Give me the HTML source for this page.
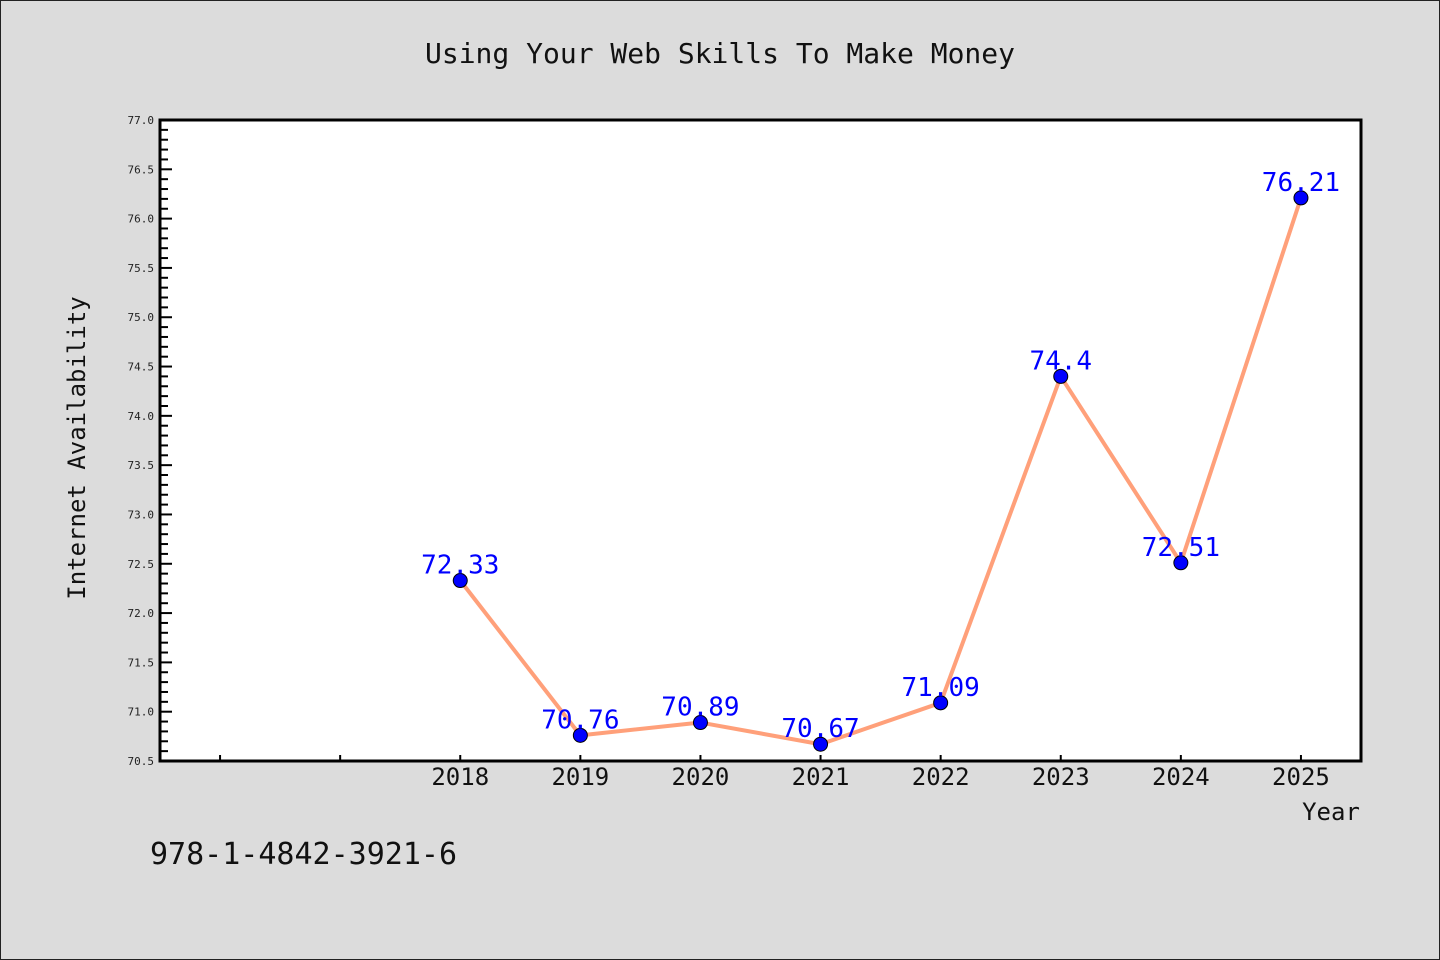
<!DOCTYPE html>
<html><head><meta charset="utf-8"><style>
body{margin:0;background:#dcdcdc}
svg{display:block}
text{font-family:"WenQuanYi Zen Hei","DejaVu Sans Mono",monospace}
</style></head><body>
<svg id="chart" width="1440" height="960">
<rect x="0.5" y="0.5" width="1439" height="959" fill="#dcdcdc" stroke="#222"/>
<text x="720" y="63" text-anchor="middle" font-size="28" fill="#111">Using Your Web Skills To Make Money</text>
<rect x="160" y="120" width="1201" height="641" fill="#fff"/>
<g id="ticks"></g>
<g id="series"></g>
<rect x="160" y="120" width="1201" height="641" fill="none" stroke="#000" stroke-width="3"/>
<text x="1331" y="820" text-anchor="middle" font-size="24" fill="#111">Year</text>
<text transform="translate(85,448) rotate(-90)" text-anchor="middle" font-size="24" fill="#111">Internet Availability</text>
<text x="150" y="864" font-size="30" fill="#111">978-1-4842-3921-6</text>
</svg>
<script>
const years=[2018,2019,2020,2021,2022,2023,2024,2025];
const values=[72.33,70.76,70.89,70.67,71.09,74.4,72.51,76.21];
const labels=["72.33","70.76","70.89","70.67","71.09","74.4","72.51","76.21"];
const yTicks=["70.5","71.0","71.5","72.0","72.5","73.0","73.5","74.0","74.5","75.0","75.5","76.0","76.5","77.0"];
const ns="http://www.w3.org/2000/svg";
const L=160,R=1361,T=120,B=761,ymin=70.5,ymax=77.0,xmin=2015.5,xmax=2025.5;
const xs=v=>L+(v-xmin)/(xmax-xmin)*(R-L);
const ys=v=>B-(v-ymin)/(ymax-ymin)*(B-T);
function mk(tag,a,p){const e=document.createElementNS(ns,tag);for(const k in a)e.setAttribute(k,a[k]);p.appendChild(e);return e;}
const tg=document.getElementById('ticks'),sg=document.getElementById('series');
for(let i=0;i<=65;i++){const v=ymin+i*0.1,y=ys(v),maj=i%5===0;
 const l=mk('line',{x1:L,x2:L+(maj?12:8),y1:y,y2:y,stroke:'#000','stroke-width':2},tg);
 
 }
yTicks.forEach(t=>{const e=mk('text',{x:L-6,y:ys(+t)+4,'text-anchor':'end','font-size':11,fill:'#222'},tg);e.textContent=t;
 
 });
for(let yr=2016;yr<=2025;yr++){const x=xs(yr);
 const l=mk('line',{x1:x,x2:x,y1:B,y2:B-6,stroke:'#000','stroke-width':2},tg);
 
 }
years.forEach(yr=>{const e=mk('text',{x:xs(yr),y:B+24,'text-anchor':'middle','font-size':24,fill:'#111'},tg);e.textContent=yr;
 
 });
const pl=mk('polyline',{points:years.map((yr,i)=>xs(yr)+','+ys(values[i])).join(' '),fill:'none',stroke:'#ffa07a','stroke-width':4,'stroke-linejoin':'round'},sg);


years.forEach((yr,i)=>{const c=mk('circle',{cx:xs(yr),cy:ys(values[i]),r:7,fill:'#0000ff',stroke:'#000','stroke-width':1},sg);
 
 
 const t=mk('text',{x:xs(yr),y:ys(values[i])-7,'text-anchor':'middle','font-size':26,fill:'#0000ff'},sg);t.textContent=labels[i];
 
 });
</script>
</body></html>
